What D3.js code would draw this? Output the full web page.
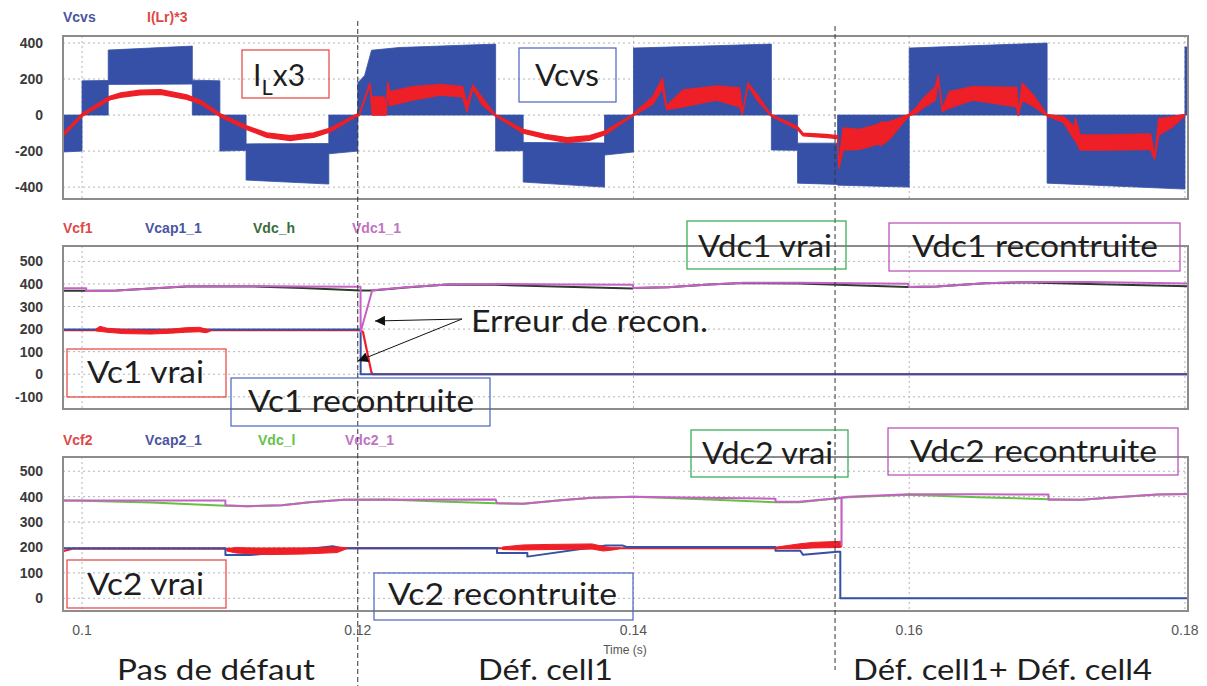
<!DOCTYPE html>
<html><head><meta charset="utf-8">
<script src="https://cdn.jsdelivr.net/npm/d3@7"></script>
<style>body{margin:0;background:#fff}svg{display:block}</style>
</head><body>
<svg id="c" width="1207" height="686"></svg>
<script>
// ---------------- data ----------------
const timeTicks = [0.1, 0.12, 0.14, 0.16, 0.18];
const timeTickLabels = ["0.1", "0.12", "0.14", "0.16", "0.18"];
const topTicks = [400, 200, 0, -200, -400];
const midTicks = [500, 400, 300, 200, 100, 0, -100];
const botTicks = [500, 400, 300, 200, 100, 0];
const faultTimes = [0.12, 0.15462];

const topLegend = ["Vcvs", "I(Lr)*3"];
const midLegend = ["Vcf1", "Vcap1_1", "Vdc_h", "Vdc1_1"];
const botLegend = ["Vcf2", "Vcap2_1", "Vdc_l", "Vdc2_1"];

// Vcvs : PWM envelope [t, low, high]
const vcvsBand = [
  [0.0986,-205,0],[0.1,-200,0],[0.1,0,190],[0.1019,0,192],[0.1019,170,361],[0.108,172,383],
  [0.108,0,194],[0.11,0,190],[0.11,-200,0],[0.1119,-196,0],[0.1119,-361,-160],[0.1179,-383,-158],
  [0.1179,-215,0],[0.12,-200,0],[0.12,0,178],[0.1205,0,220],[0.121,0,360],[0.123,0,375],[0.13,0,394],
  [0.13,-200,0],[0.132,-198,0],[0.132,-372,-152],[0.1379,-400,-155],[0.1379,-222,0],[0.14,-205,0],
  [0.14,0,372],[0.15,0,394],[0.15,-194,0],[0.1519,-196,0],[0.1519,-378,-156],[0.1548,-385,-156],
  [0.1548,-389,0],[0.16,-400,0],[0.16,0,372],[0.17,0,400],[0.17,-378,0],[0.18,-411,0],
  [0.18,0,378],[0.1802,0,378]
];
// I(Lr)*3 : band [t, low, high]
const iLrBand = [
  [0.0986,-120,-102],[0.1,-8,8],[0.102,84,104],[0.1028,99,123],[0.1042,112,138],[0.1057,115,141],
  [0.1076,88,112],[0.1086,62,82],[0.11,-8,8],[0.112,-82,-62],[0.1134,-123,-99],[0.1151,-141,-115],
  [0.1168,-123,-99],[0.118,-93,-73],[0.11994,-5,5],
  [0.1201,-4,4],[0.12088,166,178],[0.12105,0,75],[0.1211,0,100],[0.1219,0,100],[0.12205,0,60],
  [0.12219,150,183],[0.1223,53,130],[0.124,83,157],[0.126,111,170],[0.1276,102,157],[0.12792,18,60],
  [0.12835,150,167],[0.129,60,100],[0.12995,-4,4],
  [0.132,-100,-80],[0.1336,-130,-108],[0.1352,-152,-125],[0.1368,-140,-115],[0.1379,-110,-90],[0.13996,-4,4],
  [0.1414,60,102],[0.1421,150,205],[0.1424,30,50],[0.1436,46,139],[0.146,83,161],[0.1477,46,150],
  [0.1479,5,15],[0.1483,165,178],[0.149,80,110],[0.14996,-4,4],
  [0.1519,-80,-64],[0.1523,-115,-100],[0.154,-125,-108],[0.1548,-130,-115],[0.1549,-295,-280],
  [0.1552,-194,-72],[0.1564,-190,-80],[0.1578,-160,-50],[0.1579,-170,-40],[0.1585,-140,-40],[0.15997,-4,4],
  [0.1605,10,40],[0.161,40,90],[0.1619,83,157],[0.1621,200,222],[0.1624,20,35],[0.1629,39,130],
  [0.1646,83,157],[0.1678,46,154],[0.1679,-3,5],[0.1682,83,178],[0.169,50,110],[0.16998,-4,4],
  [0.1712,-40,-10],[0.172,-139,-67],[0.17205,-139,-17],[0.1724,-194,-111],[0.1745,-194,-111],
  [0.1775,-190,-105],[0.1778,-245,-230],[0.1781,-110,-20],[0.179,-70,-10],[0.17999,-4,4]
];

// middle panel
const vcf1 = [[0.0986,195],[0.1202,195],[0.12038,187],[0.12099,8],[0.1211,0],[0.1802,0]];
const vcf1Noise = [[0.101,192,200],[0.1013,190,212],[0.1018,186,204],[0.103,180,198],[0.105,178,194],
  [0.1065,182,200],[0.1075,186,206],[0.1085,188,208],[0.109,184,200],[0.1093,190,196]];
const vcap1 = [[0.0986,198],[0.12021,198],[0.12021,0],[0.1802,0]];
const vdcH = [[0.0986,370],[0.1003,370],[0.1025,371],[0.105,380],[0.1076,389],[0.112,390],[0.116,382],[0.1202,371],
  [0.12105,371],[0.1235,384],[0.1265,397],[0.13,396],[0.135,388],[0.13995,380],[0.14,382],[0.1425,385],[0.1455,398],
  [0.148,404],[0.152,402],[0.1599,386],[0.16,386],[0.162,389],[0.1655,403],[0.168,407],[0.173,400],[0.1802,390]];
const vdc1 = [[0.0986,381],[0.1003,381],[0.1003,369],[0.1025,371],[0.105,380],[0.1076,390],[0.112,391],[0.116,389],
  [0.1202,388],[0.12021,188],[0.12105,372],[0.1235,385],[0.1265,398],[0.13,400],[0.135,398],[0.13995,396],[0.14,382],
  [0.1425,385],[0.1455,398],[0.148,405],[0.152,405],[0.1599,401],[0.16,386],[0.162,389],[0.1655,403],[0.168,408],
  [0.173,408],[0.1802,402]];

// bottom panel
const vcf2 = [[0.0986,185],[0.0993,195],[0.1104,195],[0.1192,197],[0.1303,197],[0.139,197],[0.1503,197],[0.1551,210]];
const vcf2Noise = [
  [[0.1105,186,194],[0.1112,178,200],[0.1135,172,194],[0.116,174,196],[0.1185,180,202],[0.1192,195,199]],
  [[0.1305,192,202],[0.132,190,210],[0.134,192,212],[0.137,194,214],[0.1378,186,204],[0.1385,190,198],[0.139,195,198]],
  [[0.1503,195,201],[0.152,195,214],[0.153,198,220],[0.155,200,224],[0.1551,202,224]]
];
const vcap2 = [[0.0986,197],[0.1104,197],[0.1104,170],[0.1122,170],[0.1137,178],[0.1182,205],[0.1188,197],
  [0.1301,198],[0.1301,178],[0.1323,178],[0.1323,164],[0.138,208],[0.1392,208],[0.1395,202],[0.1503,202],
  [0.1503,187],[0.1521,187],[0.1523,171],[0.1548,183],[0.155,183],[0.155,0],[0.1802,0]];
const vdcL = [[0.0986,385],[0.1,384],[0.105,377],[0.1104,364],[0.112,362],[0.1145,366],[0.1165,378],[0.119,388],
  [0.122,389],[0.1265,380],[0.13,374],[0.132,372],[0.1345,385],[0.137,396],[0.14,400],[0.145,390],[0.1503,378],
  [0.152,378],[0.155,395],[0.1556,398],[0.16,407],[0.165,398],[0.1701,390],[0.1725,388],[0.175,398],[0.178,408],[0.1802,410]];
const vdc2 = [[0.0986,385],[0.1104,385],[0.1104,366],[0.112,362],[0.1145,366],[0.1165,378],[0.119,388],[0.13,389],
  [0.1301,374],[0.132,372],[0.1345,385],[0.137,396],[0.14,400],[0.145,396],[0.1503,392],[0.1503,380],[0.152,380],
  [0.155,395],[0.15508,397],[0.15509,210],[0.1551,397],[0.1556,400],[0.16,409],[0.165,409],[0.1701,408],[0.1701,388],
  [0.1725,388],[0.175,398],[0.178,408],[0.1802,410]];

// ---------------- drawing ----------------
const C = {blue:"#3550a6", red:"#ee1f26", pink:"#c462c4", dark:"#2e3a2e", green:"#68bf48",
  lblBlue:"#4a55a2", lblRed:"#e04848", lblDark:"#3b6b3b", lblGreen:"#66c04a", lblPink:"#c272c2"};
const svg = d3.select("#c");
const x = d3.scaleLinear().domain([0.09862, 0.18022]).range([63, 1188]);
const panels = [
  {top:36, bottom:199, domain:[-466,439], ticks:topTicks},
  {top:246, bottom:409, domain:[-154,568], ticks:midTicks},
  {top:457, bottom:611, domain:[-50,556], ticks:botTicks}
];
panels.forEach((p,i)=>{ p.y = d3.scaleLinear().domain(p.domain).range([p.bottom,p.top]); p.id=i; });

const defs = svg.append("defs");
panels.forEach(p=>{
  defs.append("clipPath").attr("id","clip"+p.id).append("rect")
    .attr("x",63).attr("y",p.top).attr("width",1188-63).attr("height",p.bottom-p.top);
});
defs.append("marker").attr("id","arr").attr("viewBox","0 0 10 10").attr("refX",10).attr("refY",5)
  .attr("markerWidth",14).attr("markerHeight",10).attr("markerUnits","userSpaceOnUse").attr("orient","auto")
  .append("path").attr("d","M0,0 L10,5 L0,10 z").attr("fill","#111");

panels.forEach(p=>{
  const g = svg.append("g");
  g.selectAll(".hg").data(p.ticks).join("line")
    .attr("x1",63).attr("x2",1188).attr("y1",d=>p.y(d)).attr("y2",d=>p.y(d))
    .attr("stroke","#b4b4b4").attr("stroke-width",1).attr("stroke-dasharray","2,3");
  g.selectAll(".vg").data(timeTicks).join("line")
    .attr("x1",d=>x(d)).attr("x2",d=>x(d)).attr("y1",p.top).attr("y2",p.bottom)
    .attr("stroke","#b4b4b4").attr("stroke-width",1).attr("stroke-dasharray","2,3");
  g.selectAll(".yl").data(p.ticks).join("text")
    .attr("x",43).attr("y",d=>p.y(d)+5).attr("text-anchor","end")
    .attr("font-family","Liberation Sans, Arial, sans-serif").attr("font-size",14).attr("font-weight","bold")
    .attr("fill","#3a3a3a").text(d=>d);
  p.g = g.append("g").attr("clip-path",`url(#clip${p.id})`);
});

function band(p, data, color, sw){
  const a = d3.area().x(d=>x(d[0])).y0(d=>p.y(d[1])).y1(d=>p.y(d[2]));
  p.g.append("path").datum(data).attr("d",a).attr("fill",color).attr("stroke",color)
    .attr("stroke-width",sw).attr("stroke-linejoin","round");
}
function line(p, data, color, sw){
  const l = d3.line().x(d=>x(d[0])).y(d=>p.y(d[1]));
  p.g.append("path").datum(data).attr("d",l).attr("fill","none").attr("stroke",color)
    .attr("stroke-width",sw).attr("stroke-linejoin","round");
}
// top
band(panels[0], vcvsBand, C.blue, 0.8);
band(panels[0], iLrBand, C.red, 1.4);
// middle
line(panels[1], vcf1, C.red, 2.2);
line(panels[1], vcap1, C.blue, 2);
band(panels[1], vcf1Noise, C.red, 1);
line(panels[1], vdcH, C.dark, 2);
line(panels[1], vdc1, C.pink, 2);
// bottom
line(panels[2], vcf2, C.red, 2.2);
line(panels[2], vcap2, C.blue, 2);
vcf2Noise.forEach(n=>band(panels[2], n, C.red, 1));
line(panels[2], vdcL, C.green, 2);
line(panels[2], vdc2, C.pink, 2);

// frames
panels.forEach(p=>{
  svg.append("rect").attr("x",63).attr("y",p.top).attr("width",1188-63).attr("height",p.bottom-p.top)
    .attr("fill","none").attr("stroke","#8c8c8c").attr("stroke-width",2);
});

// legends
function legend(names, xs, yb, colors){
  svg.append("g").selectAll("text").data(names).join("text")
    .attr("x",(d,i)=>xs[i]).attr("y",yb)
    .attr("font-family","Liberation Sans, Arial, sans-serif").attr("font-size",14).attr("font-weight","bold")
    .attr("fill",(d,i)=>colors[i]).text(d=>d);
}
legend(topLegend,[63,147],22,[C.lblBlue,C.lblRed]);
legend(midLegend,[63,145,253,352],233,[C.lblRed,C.lblBlue,C.lblDark,C.lblPink]);
legend(botLegend,[63,145,258,345],445,[C.lblRed,C.lblBlue,C.lblGreen,C.lblPink]);

// x ticks
svg.append("g").selectAll("text").data(timeTicks).join("text")
  .attr("x",d=>x(d)).attr("y",635).attr("text-anchor","middle")
  .attr("font-family","Liberation Sans, Arial, sans-serif").attr("font-size",14).attr("fill","#555")
  .text((d,i)=>timeTickLabels[i]);
svg.append("text").attr("x",625).attr("y",654).attr("text-anchor","middle")
  .attr("font-family","Liberation Sans, Arial, sans-serif").attr("font-size",12).attr("fill","#555").text("Time (s)");

// fault dashed lines
svg.append("g").selectAll("line").data(faultTimes).join("line")
  .attr("x1",d=>x(d)).attr("x2",d=>x(d)).attr("y1",(d,i)=>i?26:21).attr("y2",(d,i)=>i?670:686)
  .attr("stroke","#333").attr("stroke-width",1).attr("stroke-dasharray","5,3");

// annotations
const F = "Lato, 'Open Sans', sans-serif";
function box(x0,y0,x1,y1,col){
  svg.append("rect").attr("x",x0).attr("y",y0).attr("width",x1-x0).attr("height",y1-y0)
    .attr("fill","none").attr("stroke",col).attr("stroke-width",1.2);
}
function txt(s,x0,yb,w,size){
  svg.append("text").attr("x",x0).attr("y",yb).attr("font-family",F).attr("font-size",size||30)
    .attr("fill","#1e1e1e").attr("textLength",w).attr("lengthAdjust","spacingAndGlyphs").text(s);
}
const red="#e8403c", blue="#4a63c0", green="#2ea84a", purple="#b648b6";
box(242,50,329,98,red);
const il = svg.append("text").attr("x",253).attr("y",86).attr("font-family",F).attr("font-size",30).attr("fill","#1e1e1e");
il.append("tspan").text("I");
il.append("tspan").attr("font-size",22).attr("dy",9).text("L");
il.append("tspan").attr("dy",-9).text("x3");
box(519,48,616,102,blue); txt("Vcvs",535,86,64);
box(687,221,846,269,green); txt("Vdc1 vrai",698,257,134);
box(889,223,1180,271,purple); txt("Vdc1 recontruite",912,257,246);
box(67,349,226,397,red); txt("Vc1 vrai",87,383,117);
box(231,378,490,426,blue); txt("Vc1 recontruite",248,412,226);
txt("Erreur de recon.",471,332,237);
svg.append("line").attr("x1",462).attr("y1",319).attr("x2",375).attr("y2",321).attr("stroke","#111").attr("stroke-width",1).attr("marker-end","url(#arr)");
svg.append("line").attr("x1",462).attr("y1",319).attr("x2",358).attr("y2",361).attr("stroke","#111").attr("stroke-width",1).attr("marker-end","url(#arr)");
box(691,430,848,477,green); txt("Vdc2 vrai",702,464,131);
box(888,428,1178,475,purple); txt("Vdc2 recontruite",910,462,247);
box(67,560,226,608,red); txt("Vc2 vrai",87,595,117);
box(374,573,633,620,blue); txt("Vc2 recontruite",388,605,229);
txt("Pas de défaut",117,680,198,29);
txt("Déf. cell1",478,680,135,29);
txt("Déf. cell1+ Déf. cell4",853,680,299,29);
</script>
</body></html>
